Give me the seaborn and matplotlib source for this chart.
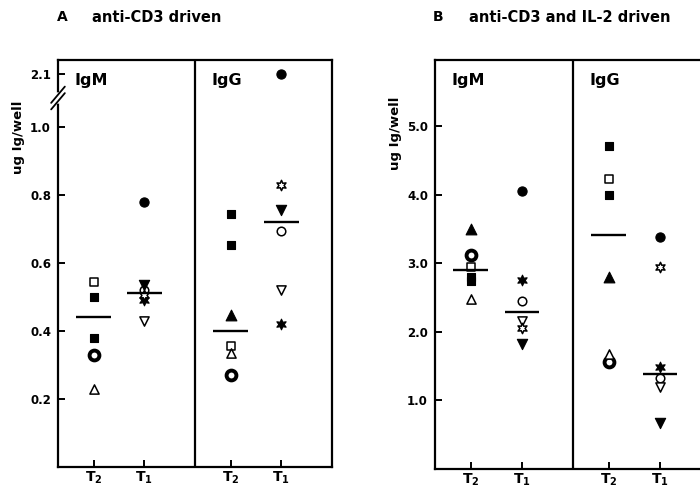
"""Ig secretion by T2 / T1 driven B cells (anti-CD3, anti-CD3 + IL-2)."""

import matplotlib
matplotlib.use("Agg")
import matplotlib.pyplot as plt
import pandas as pd
import seaborn as sns

# x positions of the four columns: IgM T2, IgM T1, IgG T2, IgG T1
POSITIONS = [0.7, 1.7, 3.4, 4.4]
DIVIDER = 2.7
XTICK_LABELS = [r"$\mathbf{T_2}$", r"$\mathbf{T_1}$", r"$\mathbf{T_2}$", r"$\mathbf{T_1}$"]

# Panel A - anti-CD3 driven (ug Ig/well)
A_IGM_T2 = [0.545, 0.50, 0.38, 0.33, 0.23]
A_IGM_T2_SYM = ["sq_o", "sq_f", "sq_f", "bull", "tri_o"]
A_IGM_T1 = [0.78, 0.535, 0.52, 0.49, 0.505, 0.43]
A_IGM_T1_SYM = ["circ_f", "dtri_f", "circ_o", "star_f", "star_o", "dtri_o"]
A_IGG_T2 = [0.745, 0.653, 0.447, 0.355, 0.335, 0.27]
A_IGG_T2_SYM = ["sq_f", "sq_f", "tri_f", "sq_o", "tri_o", "bull"]
A_IGG_T1 = [2.1, 0.83, 0.755, 0.695, 0.52, 0.42]
A_IGG_T1_SYM = ["circ_f", "star_o", "dtri_f", "circ_o", "dtri_o", "star_f"]
A_MEANS = [0.44, 0.513, 0.40, 0.72]
A_YTICKS = [0.2, 0.4, 0.6, 0.8, 1.0, 2.1]

# Panel B - anti-CD3 and IL-2 driven
B_IGM_T2 = [3.5, 3.12, 2.95, 2.8, 2.74, 2.47]
B_IGM_T2_SYM = ["tri_f", "bull", "sq_o", "sq_f", "sq_f", "tri_o"]
B_IGM_T1 = [4.05, 2.76, 2.45, 2.15, 2.06, 1.82]
B_IGM_T1_SYM = ["circ_f", "star_f", "circ_o", "dtri_o", "star_o", "dtri_f"]
B_IGG_T2 = [4.7, 4.22, 4.0, 2.8, 1.68, 1.56]
B_IGG_T2_SYM = ["sq_f", "sq_o", "sq_f", "tri_f", "tri_o", "bull"]
B_IGG_T1 = [3.38, 2.95, 1.49, 1.32, 1.19, 0.67]
B_IGG_T1_SYM = ["circ_f", "star_o", "star_f", "circ_o", "dtri_o", "dtri_f"]
B_MEANS = [2.9, 2.29, 3.41, 1.39]
B_YTICKS = [1.0, 2.0, 3.0, 4.0, 5.0]

STAR = (6, 1, 0)
# symbol -> (marker, filled, size, edge width)
SYMBOLS = {
    "circ_f": ("o", True, 44, 0.8),
    "circ_o": ("o", False, 38, 1.1),
    "bull": ("o", False, 50, 2.8),
    "sq_f": ("s", True, 40, 0.8),
    "sq_o": ("s", False, 36, 1.1),
    "tri_f": ("^", True, 60, 0.8),
    "tri_o": ("^", False, 44, 1.1),
    "dtri_f": ("v", True, 55, 0.8),
    "dtri_o": ("v", False, 44, 1.1),
    "star_f": (STAR, True, 60, 0.8),
    "star_o": (STAR, False, 55, 1.1),
}

FONT = ["DejaVu Sans"]


def a_axis(v):
    # broken axis: values above the break are squeezed in at the top
    return v if v <= 1.1 else 1.155 + (v - 2.1) * 0.1


def build_frame(columns, symbols, transform=None):
    rows = []
    for x, vals, syms in zip(POSITIONS, columns, symbols):
        for v, s in zip(vals, syms):
            rows.append({"x": x, "y": transform(v) if transform else v, "sym": s})
    return pd.DataFrame(rows)


def draw_panel(ax, df, means, yticks, ylim, transform=None):
    for key, sub in df.groupby("sym"):
        marker, filled, size, lw = SYMBOLS[key]
        sns.scatterplot(data=sub, x="x", y="y", ax=ax, marker=marker, s=size,
                        color="black", facecolor="black" if filled else "white",
                        edgecolor="black", linewidth=lw, legend=False, zorder=3)
    for x, m in zip(POSITIONS, means):
        ax.hlines(m, x - 0.34, x + 0.34, color="black", lw=1.7, zorder=4)
    ax.axvline(DIVIDER, color="black", lw=1.6)
    ax.set_xlim(0, 5.4)
    ax.set_ylim(*ylim)
    ax.set_xticks(POSITIONS)
    ax.set_xticklabels(XTICK_LABELS, fontsize=10)
    ticks = [transform(t) if transform else t for t in yticks]
    ax.set_yticks(ticks)
    ax.set_yticklabels([f"{t:.1f}" for t in yticks], fontsize=8.5, fontweight="bold")
    ax.tick_params(direction="in", length=5, width=1.4, colors="black")
    ax.tick_params(axis="y", pad=5)
    ax.tick_params(axis="x", pad=2)
    for sp in ax.spines.values():
        sp.set_visible(True)
        sp.set_linewidth(1.6)
        sp.set_color("black")
    ax.set_xlabel("")
    ax.set_ylabel("ug Ig/well", fontsize=9.5, fontweight="bold", color="black")
    for text, x in zip(["IgM", "IgG"], [0.06, 0.56]):
        ax.text(x, 0.95, text, transform=ax.transAxes, fontsize=11.5,
                fontweight="bold", va="center", ha="left", color="black")


def main():
    sns.set_style("ticks")
    plt.rcParams["font.family"] = FONT
    plt.rcParams["mathtext.fontset"] = "dejavusans"
    plt.rcParams["text.color"] = "black"

    fig = plt.figure(figsize=(7, 4.92), dpi=100)
    ax_a = fig.add_axes([58 / 700, 25 / 492, 274 / 700, 407 / 492])
    ax_b = fig.add_axes([435 / 700, 23 / 492, 276 / 700, 409 / 492])

    df_a = build_frame([A_IGM_T2, A_IGM_T1, A_IGG_T2, A_IGG_T1],
                       [A_IGM_T2_SYM, A_IGM_T1_SYM, A_IGG_T2_SYM, A_IGG_T1_SYM],
                       a_axis)
    df_b = build_frame([B_IGM_T2, B_IGM_T1, B_IGG_T2, B_IGG_T1],
                       [B_IGM_T2_SYM, B_IGM_T1_SYM, B_IGG_T2_SYM, B_IGG_T1_SYM])

    draw_panel(ax_a, df_a, A_MEANS, A_YTICKS, (0, 1.197), a_axis)
    draw_panel(ax_b, df_b, B_MEANS, B_YTICKS, (0, 5.96))

    ax_a.yaxis.set_label_coords(-33 / 274, 0.81)
    ax_b.yaxis.set_label_coords(-33 / 276, 0.82)

    # break marks on panel A's y axis
    yb = (467 - 98) / 407
    ax_a.plot([0, 0], [yb - 0.008, yb + 0.008], transform=ax_a.transAxes,
              color="white", lw=4, clip_on=False, zorder=5)
    for dy in (-0.008, 0.008):
        ax_a.plot([-0.025, 0.025], [yb - 0.02 + dy, yb + 0.02 + dy],
                  transform=ax_a.transAxes, color="black", lw=1.3,
                  clip_on=False, zorder=6)

    ty = 1 - 17 / 492
    fig.text(57 / 700, ty, "A", fontsize=10, fontweight="bold", va="center")
    fig.text(92 / 700, ty, "anti-CD3 driven", fontsize=10.5, fontweight="bold", va="center")
    fig.text(433 / 700, ty, "B", fontsize=10, fontweight="bold", va="center")
    fig.text(469 / 700, ty, "anti-CD3 and IL-2 driven", fontsize=10.5,
             fontweight="bold", va="center")

    fig.savefig("out.png", dpi=100)
    plt.close(fig)


if __name__ == "__main__":
    main()
